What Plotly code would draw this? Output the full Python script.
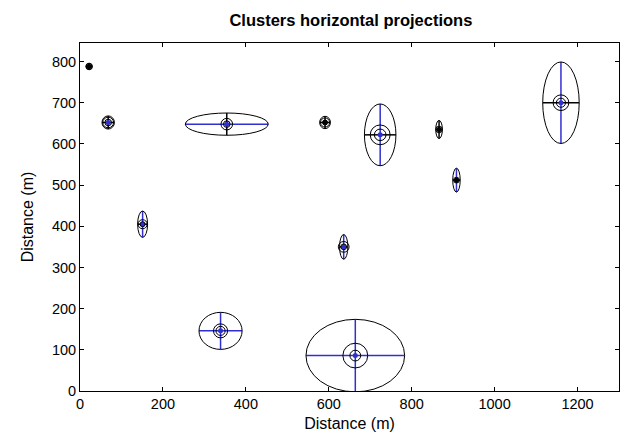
import plotly.graph_objects as go

# Cluster data (metres)
cx = [22, 68, 354, 591, 724, 866, 908, 1160, 636, 664, 151, 339]
cy = [788, 652, 648, 652, 622, 635, 512, 700, 350, 86, 405, 146]
semi_a = [8, 15, 100, 13, 38, 8, 9, 44, 10, 119, 12, 52]      # horizontal semi-axis
semi_b = [8, 16, 27, 15, 75, 22, 29, 99, 30, 88, 32, 45]      # vertical semi-axis
ring_outer = [7, 13, 14, 11, 24, 8, 7, 19, 13, 30, 11, 17]
ring_inner = [4, 8, 8, 6, 14, 5, 4, 11, 7, 13, 6, 11]
hline_col = ["black", "black", "blue", "black", "black", "black", "black", "black", "black", "blue", "black", "blue"]
vline_col = ["black", "black", "black", "black", "blue", "black", "blue", "blue", "blue", "blue", "blue", "blue"]
dot_col = ["black", "blue", "blue", "black", "blue", "black", "black", "blue", "blue", "blue", "blue", "blue"]

BLUE = "#3030d0"
col = {"blue": BLUE, "black": "black"}

x_ticks = [0, 200, 400, 600, 800, 1000, 1200]
y_ticks = [0, 100, 200, 300, 400, 500, 600, 700, 800]

fig = go.Figure()
shapes = []
for i in range(len(cx)):
    # outer ellipse
    shapes.append(dict(type="circle", xref="x", yref="y",
                       x0=cx[i] - semi_a[i], x1=cx[i] + semi_a[i],
                       y0=cy[i] - semi_b[i], y1=cy[i] + semi_b[i],
                       line=dict(color="black", width=1)))
    for r in (ring_outer[i], ring_inner[i]):
        shapes.append(dict(type="circle", xref="x", yref="y",
                           x0=cx[i] - r, x1=cx[i] + r, y0=cy[i] - r, y1=cy[i] + r,
                           line=dict(color="black", width=1)))
    # crosshair
    fig.add_trace(go.Scatter(x=[cx[i] - semi_a[i], cx[i] + semi_a[i]], y=[cy[i], cy[i]],
                             mode="lines", line=dict(color=col[hline_col[i]], width=1.5),
                             hoverinfo="skip", showlegend=False))
    fig.add_trace(go.Scatter(x=[cx[i], cx[i]], y=[cy[i] - semi_b[i], cy[i] + semi_b[i]],
                             mode="lines", line=dict(color=col[vline_col[i]], width=1.5),
                             hoverinfo="skip", showlegend=False))

fig.add_trace(go.Scatter(x=cx, y=cy, mode="markers",
                         marker=dict(color=[col[c] for c in dot_col], size=5, line=dict(width=0)),
                         showlegend=False))

axis_common = dict(showgrid=False, zeroline=False, showline=True, linecolor="black",
                   linewidth=1, mirror="ticks", ticks="inside", ticklen=4,
                   tickcolor="black", tickfont=dict(size=14.5, color="black"))

fig.update_layout(
    width=621, height=443,
    paper_bgcolor="white", plot_bgcolor="white",
    margin=dict(l=80, r=2, t=43, b=52),
    font=dict(family="Liberation Sans, Arial, sans-serif", color="black"),
    title=dict(text="<b>Clusters horizontal projections</b>", x=0.565, xanchor="center",
               y=0.955, yanchor="middle", font=dict(size=16.5, color="black")),
    shapes=shapes,
    xaxis=dict(range=[0, 1300], tickvals=x_ticks,
               title=dict(text="Distance (m)", font=dict(size=16), standoff=6),
               **axis_common),
    yaxis=dict(range=[0, 845], tickvals=y_ticks,
               title=dict(text="Distance (m)", font=dict(size=16), standoff=14),
               **axis_common),
)

fig.write_html("out.html")
